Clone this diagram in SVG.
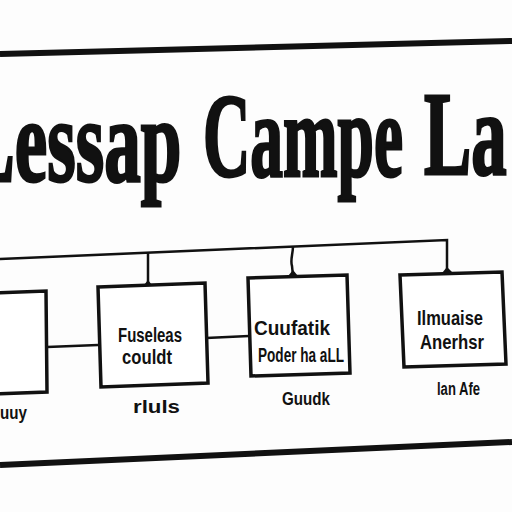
<svg xmlns="http://www.w3.org/2000/svg" width="512" height="512" viewBox="0 0 512 512">
<style>
.frame{stroke:#111;stroke-width:6;fill:none;stroke-linecap:butt}
.box{fill:#fff;stroke:#111;stroke-width:3.5;stroke-linejoin:miter}
.wire{fill:none;stroke:#111;stroke-width:2.5}
.tip{fill:#111}
.title{font-family:"Liberation Serif","DejaVu Serif",serif;font-weight:bold;font-size:118px;fill:#111;stroke:#111;stroke-width:3}
.lbl{font-family:"Liberation Sans","DejaVu Sans",sans-serif;font-size:20px;fill:#111;font-weight:bold}
.cap{font-family:"Liberation Sans","DejaVu Sans",sans-serif;font-size:18px;fill:#111;font-weight:bold}
</style>
<rect width="512" height="512" fill="#fdfdfd"/>
<g id="frame">
<line class="frame" x1="0" y1="54" x2="512" y2="41"/>
<line class="frame" x1="0" y1="465" x2="512" y2="442" stroke-width="7"/>
</g>
<g id="title">
<g transform="translate(-34,181) scale(0.62,1)"><text class="title" x="0" y="0">Lessap</text></g>
<g transform="translate(203,176) scale(0.555,1)"><text class="title" x="0" y="0">Campe</text></g>
<g transform="translate(424,174) scale(0.6,1)"><text class="title" x="0" y="0">La</text></g>
</g>
<g id="connectors">
<path class="wire" d="M0,259 L447,240 L447,272"/>
<path class="wire" d="M148,252 L148,285"/>
<path class="wire" d="M293,246 C293,254 290,260 292,266 L293,276"/>
<path class="wire" d="M47,347 L98,345"/>
<path class="wire" d="M206,338 L249,336"/>
<path class="tip" d="M144,285 L148,280 L152,285 Z"/>
<path class="tip" d="M288,276 L293,270 L298,276 Z"/>
<path class="tip" d="M442,273 L447,267 L452,272 Z"/>
</g>
<g id="node1">
<polygon class="box" points="-5,293 46,291 47,392 -5,394"/>
<text class="cap" x="0" y="419" textLength="27" lengthAdjust="spacingAndGlyphs">uuy</text>
</g>
<g id="node2">
<polygon class="box" points="98,287 205,283 208,383 101,387"/>
<text class="lbl" x="118" y="342" textLength="64" lengthAdjust="spacingAndGlyphs">Fuseleas</text>
<text class="lbl" x="122" y="364" textLength="50" lengthAdjust="spacingAndGlyphs">couldt</text>
<text class="cap" x="133" y="413" textLength="47" lengthAdjust="spacingAndGlyphs">rluls</text>
</g>
<g id="node3">
<polygon class="box" points="248,278 347,275 350,373 251,376"/>
<text class="lbl" x="254" y="335" textLength="76" lengthAdjust="spacingAndGlyphs">Cuufatik</text>
<text class="lbl" x="258" y="362" textLength="86" lengthAdjust="spacingAndGlyphs">Poder ha aLL</text>
<text class="cap" x="282" y="405" textLength="48" lengthAdjust="spacingAndGlyphs">Guudk</text>
</g>
<g id="node4">
<polygon class="box" points="400,275 502,272 506,364 404,367"/>
<text class="lbl" x="417" y="325" textLength="66" lengthAdjust="spacingAndGlyphs">Ilmuaise</text>
<text class="lbl" x="420" y="349" textLength="64" lengthAdjust="spacingAndGlyphs">Anerhsr</text>
<text class="cap" x="437" y="395" textLength="43" lengthAdjust="spacingAndGlyphs">lan Afe</text>
</g>
</svg>
